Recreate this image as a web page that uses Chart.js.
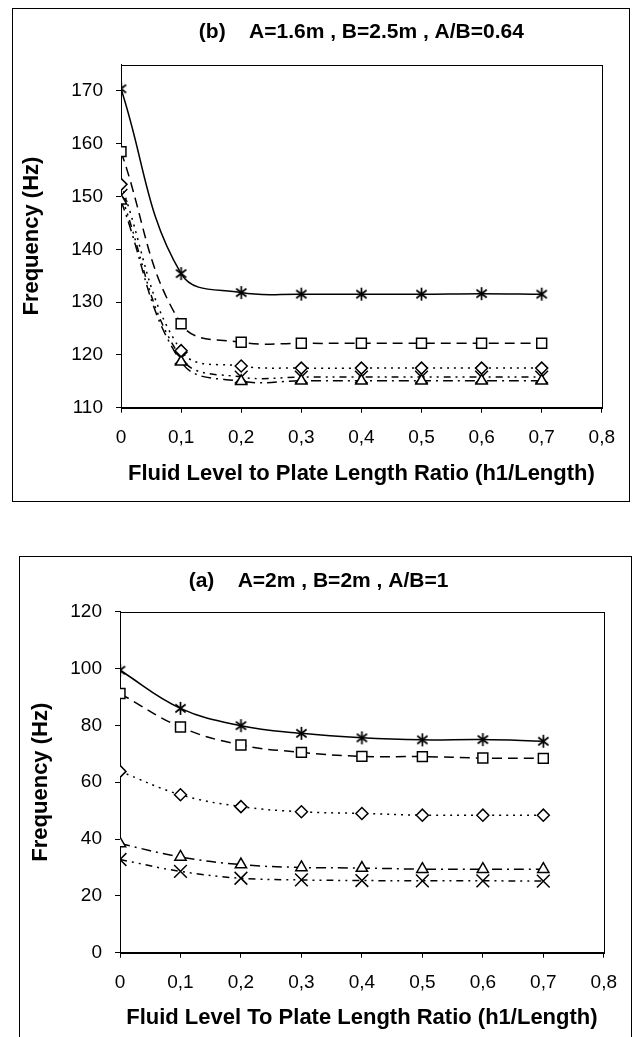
<!DOCTYPE html>
<html lang="en">
<head>
  <meta charset="UTF-8">
  <title>Frequency vs fluid level</title>
  <script src="https://cdn.jsdelivr.net/npm/chart.js"></script>
  <style>
    html, body { margin: 0; padding: 0; background: #fff; overflow: hidden; }
    .frame { position: absolute; border: 1px solid #000; }
    .frame canvas { display: block; }
  </style>
</head>
<body>
  <div class="frame" style="left:12px; top:8px;">
    <canvas id="chartB" width="616" height="492"></canvas>
  </div>
  <div class="frame" style="left:19px; top:556px;">
    <canvas id="chartA" width="611" height="500"></canvas>
  </div>
  <script>
    // x values: fluid level / plate length
    const ratio = [0, 0.1, 0.2, 0.3, 0.4, 0.5, 0.6, 0.7]

    // (b) A=1.6m, B=2.5m
    const bStar = [170.4, 135.4, 131.8, 131.5, 131.5, 131.5, 131.6, 131.5]
    const bSquare = [158.5, 125.9, 122.4, 122.2, 122.2, 122.2, 122.2, 122.2]
    const bDiamond = [152.3, 120.8, 117.9, 117.5, 117.5, 117.5, 117.5, 117.5]
    const bTriangle = [149.2, 118.7, 115.0, 115.1, 115.1, 115.1, 115.1, 115.1]
    const bCross = [150.2, 119.4, 115.8, 115.8, 115.8, 115.8, 115.8, 115.8]

    // (a) A=2m, B=2m
    const aStar = [99.4, 86.0, 79.9, 77.2, 75.6, 74.9, 75.0, 74.4]
    const aSquare = [91.2, 79.4, 73.1, 70.5, 69.1, 69.0, 68.5, 68.4]
    const aDiamond = [63.8, 55.6, 51.4, 49.6, 49.0, 48.4, 48.4, 48.4]
    const aTriangle = [38.4, 33.7, 31.0, 30.0, 29.8, 29.4, 29.4, 29.4]
    const aCross = [32.8, 28.6, 26.2, 25.6, 25.4, 25.3, 25.3, 25.2]

    Chart.defaults.font.family = '"Liberation Sans", Arial, sans-serif'
    Chart.defaults.color = '#000'

    // 6-armed asterisk marker
    function makeAsterisk(size) {
      const c = document.createElement('canvas')
      c.width = size
      c.height = size
      const g = c.getContext('2d')
      const m = size / 2, r = size / 2 - 1
      g.strokeStyle = '#000'
      g.lineWidth = 1.7
      g.beginPath()
      for (const deg of [90, 38, 142]) {
        const a = deg * Math.PI / 180
        g.moveTo(m - r * Math.cos(a), m - r * Math.sin(a))
        g.lineTo(m + r * Math.cos(a), m + r * Math.sin(a))
      }
      g.stroke()
      return c
    }
    const asterisk = makeAsterisk(15)

    const plotFrame = {
      id: 'plotFrame',
      beforeDatasetsDraw(chart) {
        const { ctx, chartArea: a } = chart
        ctx.save()
        ctx.strokeStyle = '#000'
        ctx.lineWidth = 1
        const l = Math.round(a.left) + 0.5, t = Math.round(a.top) + 0.5
        const r = Math.round(a.right) + 0.5, b = Math.round(a.bottom) + 0.5
        ctx.strokeRect(l, t, r - l, b - t)
        ctx.restore()
      }
    }

    function series(values, style, dash, radius) {
      return {
        data: ratio.map((x, i) => ({ x: x, y: values[i] })),
        borderColor: '#000',
        borderWidth: 1.5,
        borderDash: dash,
        tension: 0.4,
        pointStyle: style,
        pointRadius: radius,
        pointBorderColor: '#000',
        pointBackgroundColor: '#fff',
        pointBorderWidth: 1.5
      }
    }

    function makeChart(id, opt) {
      return new Chart(document.getElementById(id), {
        type: 'line',
        data: {
          datasets: [
            series(opt.star, asterisk, [], 7),
            series(opt.square, 'rect', [10, 6], 7),
            series(opt.diamond, 'rectRot', [2, 5], 6),
            series(opt.triangle, 'triangle', [10, 5, 2, 5], 6.5),
            series(opt.cross, 'crossRot', [7, 5, 2, 5, 2, 5], 9)
          ]
        },
        options: {
          responsive: false,
          animation: false,
          layout: { padding: { left: 0, right: opt.padRight, top: 0, bottom: 0 } },
          plugins: {
            legend: { display: false },
            tooltip: { enabled: false },
            title: {
              display: true,
              text: opt.title,
              fullSize: opt.titleFull,
              color: '#000',
              font: { size: 21, weight: 'bold' },
              padding: opt.titlePad
            }
          },
          scales: {
            x: {
              type: 'linear',
              min: 0,
              max: 0.8,
              afterFit: s => { s.height = opt.xHeight },
              ticks: {
                stepSize: 0.1,
                padding: 14,
                maxRotation: 0,
                font: { size: 19 },
                callback: v => v === 0 ? '0' : v.toFixed(1).replace('.', ',')
              },
              grid: { drawOnChartArea: false, tickLength: 5, color: '#000' },
              border: { color: '#000', width: 1 },
              title: {
                display: true,
                text: opt.xTitle,
                font: { size: 22, weight: 'bold' },
                padding: { top: 0, bottom: opt.xTitlePad }
              }
            },
            y: {
              min: opt.yMin,
              max: opt.yMax,
              afterFit: s => { s.width = opt.yWidth },
              afterBuildTicks: s => { s.ticks = s.ticks.filter(t => t.value <= opt.yLast) },
              ticks: { stepSize: opt.yStep, padding: 13, font: { size: 19 } },
              grid: { drawOnChartArea: false, tickLength: 5, color: '#000' },
              border: { color: '#000', width: 1 },
              title: {
                display: true,
                text: 'Frequency (Hz)',
                font: { size: 22, weight: 'bold' },
                padding: { top: opt.yTitlePad, bottom: 0 }
              }
            }
          }
        },
        plugins: [plotFrame]
      })
    }

    makeChart('chartB', {
      star: bStar, square: bSquare, diamond: bDiamond, triangle: bTriangle, cross: bCross,
      title: '(b)    A=1.6m , B=2.5m , A/B=0.64',
      titleFull: false,
      titlePad: { top: 10.4, bottom: 19.9 },
      xTitle: 'Fluid Level to Plate Length Ratio (h1/Length)',
      xHeight: 93.3,
      xTitlePad: 13.8,
      yMin: 110, yMax: 175, yStep: 10, yLast: 170,
      yWidth: 108,
      yTitlePad: 5.5,
      padRight: 13
    })

    makeChart('chartA', {
      star: aStar, square: aSquare, diamond: aDiamond, triangle: aTriangle, cross: aCross,
      title: '(a)    A=2m , B=2m , A/B=1',
      titleFull: true,
      titlePad: { top: 12.1, bottom: 17.4 },
      xTitle: 'Fluid Level To Plate Length Ratio (h1/Length)',
      xHeight: 104.3,
      xTitlePad: 25.8,
      yMin: 0, yMax: 120, yStep: 20, yLast: 120,
      yWidth: 100,
      yTitlePad: 7.3,
      padRight: 14
    })
  </script>
</body>
</html>
